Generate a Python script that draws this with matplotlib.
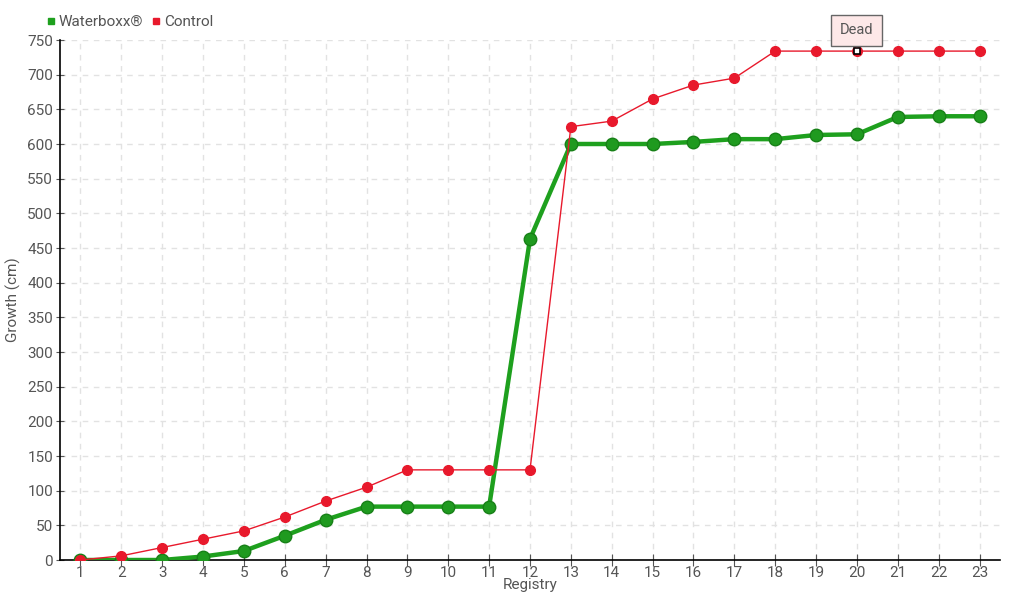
import numpy as np
import matplotlib.pyplot as plt
from matplotlib.lines import Line2D

# Data
registry = list(range(1, 24))
waterboxx = [0, 0, 0, 5, 13, 35, 58, 77, 77, 77, 77, 463, 600, 600, 600, 603,
             607, 607, 613, 614, 639, 640, 640]
control = [0, 6, 18, 30, 42, 62, 85, 105, 130, 130, 130, 130, 625, 633, 665,
           685, 695, 734, 734, 734, 734, 734, 734]
dead_index = 19  # registry 20 on the control series
yticks = list(range(0, 751, 50))

plt.rcParams['font.family'] = ['Roboto', 'DejaVu Sans']
text_color = '#555555'
green = '#1ea01e'
red = '#e8192c'

fig = plt.figure(figsize=(10.2, 6), dpi=100)
ax = fig.add_axes([60 / 1020, 40 / 600, 940 / 1020, 520 / 600])

ax.plot(registry, waterboxx, color=green, lw=3.2, marker='o', ms=9,
        markerfacecolor='#1f9a1f', markeredgecolor='#178017', mew=1, zorder=3)
ax.plot(registry, control, color=red, lw=1, marker='o', ms=7,
        markerfacecolor=red, markeredgecolor=red, zorder=4)

# "Dead" marker and tooltip
ax.plot(registry[dead_index], control[dead_index], marker='s', ms=5,
        markerfacecolor='white', markeredgecolor='black', mew=1.2, zorder=5)
ax.annotate('Dead', xy=(registry[dead_index], control[dead_index]),
            xytext=(0, 15), textcoords='offset points', ha='center', va='center',
            fontsize=10.5, color=text_color,
            bbox=dict(boxstyle='square,pad=0.6', fc='#fde8e8', ec='#666666', lw=1),
            arrowprops=dict(arrowstyle='-', color='#666666', lw=0.8,
                            shrinkA=0, shrinkB=3), zorder=6)

ax.set_xlim(0.5, 23.5)
ax.set_ylim(0, 750)
ax.set_xticks(registry)
ax.set_yticks(yticks)
ax.grid(True, color='#e2e2e2', linestyle=(0, (4, 4)), lw=1)
ax.set_axisbelow(True)

for side in ['top', 'right']:
    ax.spines[side].set_visible(False)
for side in ['left', 'bottom']:
    ax.spines[side].set_color('black')
    ax.spines[side].set_linewidth(1.2)

ax.tick_params(axis='both', colors=text_color, labelsize=11, length=4)
ax.tick_params(axis='x', direction='inout', length=8, pad=0)
ax.tick_params(axis='y', direction='inout', length=6, pad=2)
for t in ax.get_xticklines() + ax.get_yticklines():
    t.set_color('black')

ax.set_xlabel('Registry', fontsize=11, color=text_color, labelpad=-1)
ax.set_ylabel('Growth (cm)', fontsize=11, color=text_color, labelpad=4)

handles = [Line2D([], [], color=green, marker='s', ls='', ms=5),
           Line2D([], [], color=red, marker='s', ls='', ms=5)]
fig.legend(handles, ['Waterboxx®', 'Control'], loc='center left',
           bbox_to_anchor=(46 / 1020, 1 - 22 / 600), ncol=2, frameon=False,
           fontsize=11, handlelength=0.6, handletextpad=0.2, columnspacing=0.6,
           labelcolor=text_color, borderaxespad=0, borderpad=0)

fig.savefig('out.png', dpi=100)
